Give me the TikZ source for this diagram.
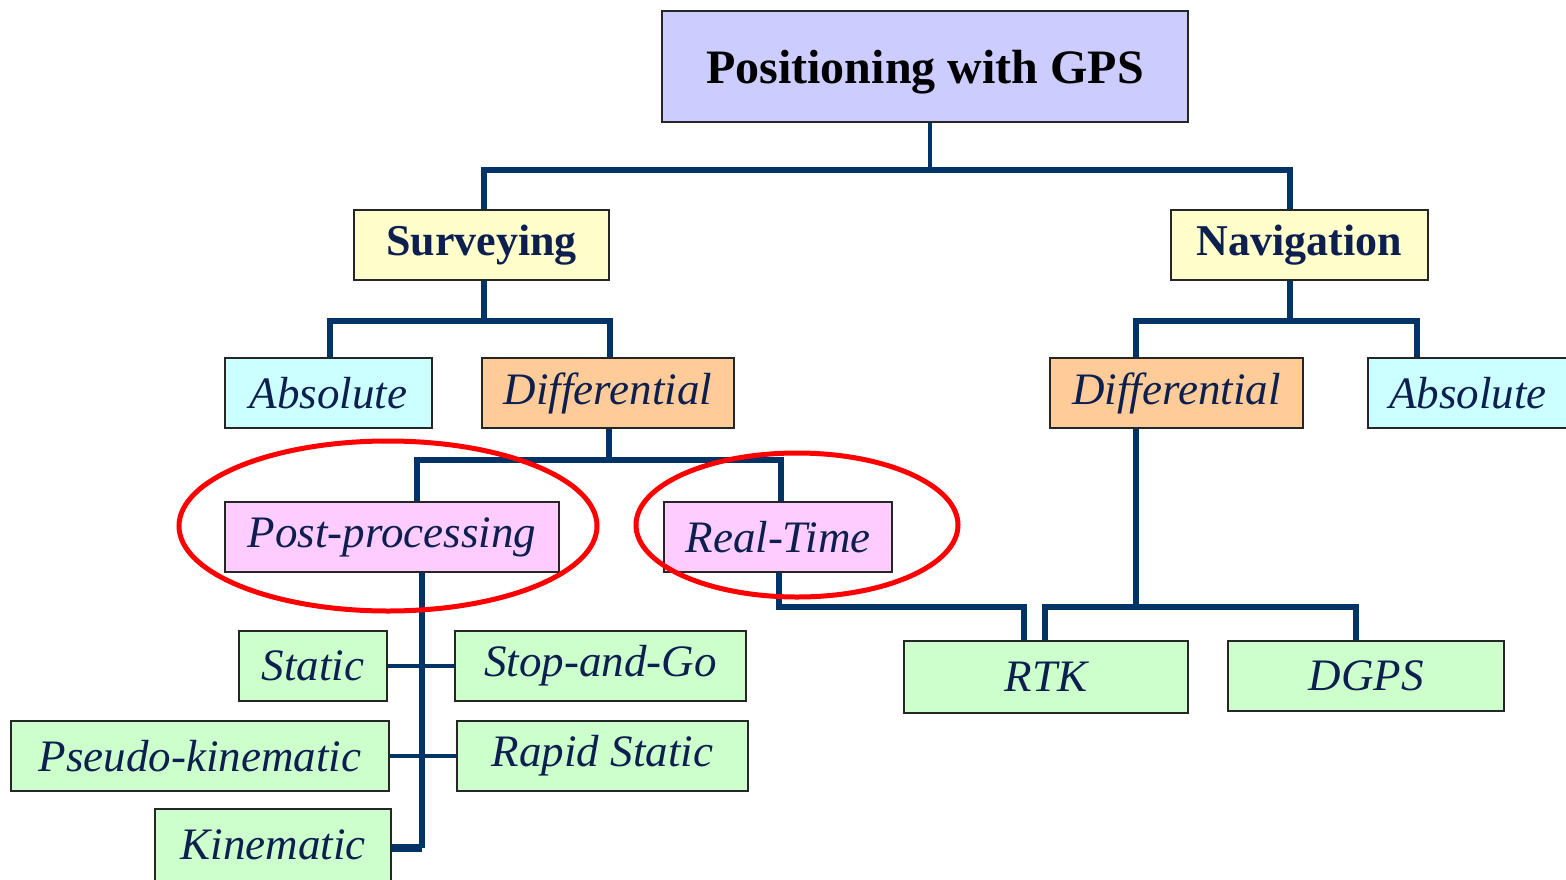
\documentclass[tikz,border=0pt]{standalone}
\usepackage{fontspec}
\setmainfont{Liberation Serif}
\definecolor{navy}{HTML}{003366}
\definecolor{txt}{HTML}{0D1F4F}
\definecolor{cTitle}{HTML}{CCCCFF}
\definecolor{cYel}{HTML}{FFFFCC}
\definecolor{cCyan}{HTML}{CCFFFF}
\definecolor{cOra}{HTML}{FFCC99}
\definecolor{cPink}{HTML}{FFCCFF}
\definecolor{cGreen}{HTML}{CCFFCC}
\tikzset{
  box/.style={draw=black!85, line width=1.8pt, inner sep=0pt, text=txt},
  bld/.style={box, font=\fontsize{44}{48}\selectfont\bfseries},
  itl/.style={box, font=\fontsize{45}{48}\selectfont\itshape},
  conn/.style={draw=navy, line width=6pt},
  thinconn/.style={draw=navy, line width=4pt},
  ring/.style={draw=red, line width=5pt}
}
\begin{document}
\begin{tikzpicture}[x=1pt,y=-1pt]
\useasboundingbox (0,0) rectangle (1566,879);
\clip (0,0) rectangle (1566,879);
% nodes
\node[bld, fill=cTitle, text=black, minimum width=526pt, minimum height=111pt, font=\fontsize{48}{52}\selectfont\bfseries] (title) at (925,66.5) {\raisebox{-17pt}[0pt][0pt]{Positioning with GPS}};
\node[bld, fill=cYel, minimum width=255pt, minimum height=70pt] (surv) at (481.5,245) {Surveying};
\node[bld, fill=cYel, minimum width=257pt, minimum height=70pt] (nav) at (1299.5,245) {Navigation};
\node[itl, fill=cCyan, minimum width=207pt, minimum height=70pt] (absL) at (328.5,393) {Absolute};
\node[itl, fill=cOra, minimum width=252pt, minimum height=70pt] (diffL) at (608,393) {Differential};
\node[itl, fill=cOra, minimum width=253pt, minimum height=70pt] (diffR) at (1176.5,393) {Differential};
\node[itl, fill=cCyan, minimum width=212pt, minimum height=70pt, text width=198pt, align=left] (absR) at (1474,393) {\hspace*{14pt}Absolute};
\node[itl, fill=cPink, minimum width=334pt, minimum height=70pt] (post) at (392,537) {Post-processing};
\node[itl, fill=cPink, minimum width=228pt, minimum height=70pt] (real) at (778,537) {Real-Time};
\node[itl, fill=cGreen, minimum width=148pt, minimum height=70pt] (static) at (313,666) {Static};
\node[itl, fill=cGreen, minimum width=291pt, minimum height=70pt] (stop) at (600.5,666) {Stop-and-Go};
\node[itl, fill=cGreen, minimum width=378pt, minimum height=70pt] (pseudo) at (200,756) {Pseudo-kinematic};
\node[itl, fill=cGreen, minimum width=291pt, minimum height=70pt] (rapid) at (602.5,756) {Rapid Static};
\node[itl, fill=cGreen, minimum width=236pt, minimum height=82pt] (kin) at (273,850) {\raisebox{11pt}{Kinematic}};
\node[itl, fill=cGreen, minimum width=284pt, minimum height=72pt] (rtk) at (1046,677) {RTK};
\node[itl, fill=cGreen, minimum width=276pt, minimum height=70pt] (dgps) at (1366,676) {DGPS};
% junction coordinates
\coordinate (h1) at (930,170);
\coordinate (h2) at (484,321);
\coordinate (h3) at (1290,321);
\coordinate (h3l) at (1136,321);
\coordinate (h3r) at (1417,321);
\coordinate (h4) at (609,460);
\coordinate (h4l) at (417,460);
\coordinate (h4r) at (781,460);
\coordinate (p1) at (422,848);
\coordinate (r1) at (779,607);
\coordinate (r2) at (1024,607);
\coordinate (d1) at (1136,607);
\coordinate (d2) at (1045,607);
\coordinate (d3) at (1356,607);
% connectors
\draw[conn, line width=4.5pt] (title.south -| h1) -- (h1);
\draw[conn] (surv.north -| h2) |- (h1) -| (nav.north -| h3);
\draw[conn] (surv.south -| h2) -- (h2);
\draw[conn] (absL.north -| 330,0) |- (h2) -| (diffL.north -| 610,0);
\draw[conn] (nav.south -| h3) -- (h3);
\draw[conn] (diffR.north -| h3l) -- (h3l) -- (h3r) -- (absR.north -| h3r);
\draw[conn] (diffL.south -| h4) -- (h4);
\draw[conn] (post.north -| h4l) -- (h4l) -- (h4r) -- (real.north -| h4r);
\draw[conn] (post.south -| p1) -- (p1);
\draw[conn, line width=8pt] (p1) -- (kin.east |- p1);
\draw[thinconn] (static.east) -- (stop.west);
\draw[thinconn] (pseudo.east) -- (rapid.west);
\draw[conn] (real.south -| r1) -- (r1) -- (r2) -- (rtk.north -| r2);
\draw[conn] (diffR.south -| d1) -- (d1);
\draw[conn] (rtk.north -| d2) -- (d2) -- (d3) -- (dgps.north -| d3);
% red rings
\draw[ring] (388,526) ellipse [x radius=209pt, y radius=85pt];
\draw[ring] (797,525) ellipse [x radius=161pt, y radius=72pt];
\end{tikzpicture}
\end{document}
